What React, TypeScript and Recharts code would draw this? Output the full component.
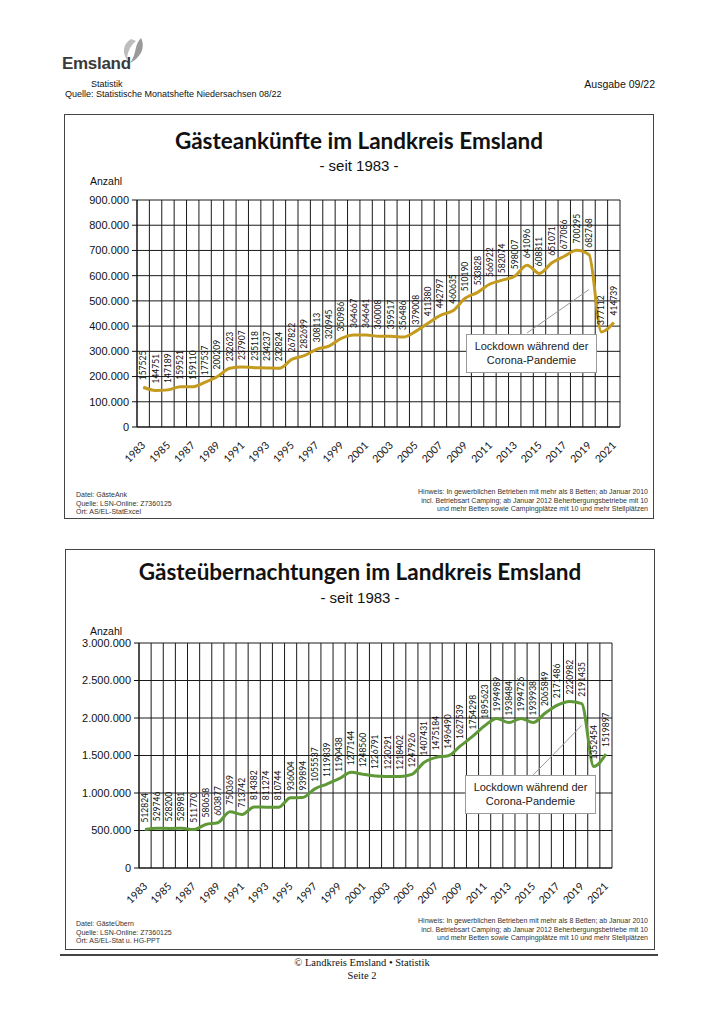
import {
  ComposedChart,
  Line,
  XAxis,
  YAxis,
  CartesianGrid,
  LabelList,
  ReferenceLine,
} from 'recharts'

const YEARS = [
  1983, 1984, 1985, 1986, 1987, 1988, 1989, 1990, 1991, 1992, 1993, 1994, 1995,
  1996, 1997, 1998, 1999, 2000, 2001, 2002, 2003, 2004, 2005, 2006, 2007, 2008,
  2009, 2010, 2011, 2012, 2013, 2014, 2015, 2016, 2017, 2018, 2019, 2020, 2021,
]

// Gästeankünfte
const ARRIVALS = [
  157525, 144751, 147189, 159521, 159110, 177537, 200209, 232623, 237907, 235118,
  234237, 232824, 267822, 282699, 308113, 320945, 350986, 364667, 364641, 360008,
  359517, 356486, 379008, 411380, 442797, 460635, 510190, 533828, 566922, 582074,
  598007, 641096, 608811, 651071, 677086, 700295, 682768, 377112, 414739,
]

// Gästeübernachtungen
const OVERNIGHTS = [
  512824, 529746, 528200, 528981, 511770, 580658, 603877, 750369, 713742, 814382,
  811274, 810744, 936004, 939894, 1055537, 1119839, 1190438, 1277144, 1248560,
  1226791, 1220291, 1218402, 1247926, 1407431, 1475184, 1496490, 1627539, 1754298,
  1895623, 1994989, 1938484, 1994726, 1939938, 2065849, 2171486, 2220982, 2191435,
  1352454, 1519897,
]

const ARRIVAL_TICKS = [0, 100000, 200000, 300000, 400000, 500000, 600000, 700000, 800000, 900000]
const OVERNIGHT_TICKS = [0, 500000, 1000000, 1500000, 2000000, 2500000, 3000000]

const arrivalData = YEARS.map((y, i) => ({ year: String(y), value: ARRIVALS[i] }))
const overnightData = YEARS.map((y, i) => ({ year: String(y), value: OVERNIGHTS[i] }))

const fmt = (n: number) => String(n).replace(/\B(?=(\d{3})+(?!\d))/g, '.')

const SANS = '"Liberation Sans", Arial, sans-serif'
const CAL = 'Lato, "Open Sans", sans-serif'

const YearTick = ({ x, y, payload }: any) => {
  const tx = x + 3
  const ty = y + 11
  return (
    <text
      x={tx}
      y={ty}
      transform={`rotate(-45 ${tx} ${ty})`}
      textAnchor="end"
      fontSize={10.5}
      fontFamily={CAL}
      fill="#111"
    >
      {payload.value}
    </text>
  )
}

const ValueLabel = (props: any) => {
  const { x, y, value } = props
  if (x == null || y == null) return null
  const ly = y - 7
  return (
    <text
      x={x}
      y={ly}
      transform={`rotate(-90 ${x} ${ly})`}
      textAnchor="start"
      dominantBaseline="central"
      fontSize={8.5}
      fontFamily={CAL}
      fill="#111"
    >
      {value}
    </text>
  )
}

// Gitternetz zwischen den Kategorien (wie Excel)
const boundaries = ({ offset }: any) =>
  YEARS.concat([0]).map((_, i) => offset.left + (i * offset.width) / YEARS.length)

interface PanelProps {
  data: { year: string; value: number }[]
  ticks: number[]
  color: string
  yWidth: number
  width: number
  marginRight: number
  plotHeight: number
  segment: { x: string; y: number }[]
}

function Panel({ data, ticks, color, yWidth, width, marginRight, plotHeight, segment }: PanelProps) {
  return (
    <ComposedChart
      width={width}
      height={10 + plotHeight + 50}
      data={data}
      margin={{ top: 10, right: marginRight, bottom: 0, left: 0 }}
    >
      <CartesianGrid
        stroke="#1a1a1a"
        strokeWidth={1}
        verticalCoordinatesGenerator={boundaries}
      />
      <XAxis
        dataKey="year"
        scale="band"
        interval={1}
        height={50}
        tickLine={false}
        axisLine={{ stroke: '#111' }}
        tick={<YearTick />}
      />
      <YAxis
        width={yWidth}
        domain={[ticks[0], ticks[ticks.length - 1]]}
        ticks={ticks}
        tickFormatter={fmt}
        tickSize={5}
        tickMargin={3}
        tickLine={{ stroke: '#111' }}
        axisLine={{ stroke: '#111' }}
        tick={{ fill: '#111', fontSize: 11, fontFamily: SANS }}
      />
      <ReferenceLine segment={segment} stroke="#999" strokeWidth={1} />
      <Line
        type="monotone"
        dataKey="value"
        stroke={color}
        strokeWidth={3}
        dot={false}
        isAnimationActive={false}
      >
        <LabelList dataKey="value" content={ValueLabel} />
      </Line>
    </ComposedChart>
  )
}

const abs = (left: number, top: number, extra: any = {}) => ({
  position: 'absolute' as const,
  left,
  top,
  lineHeight: 1,
  whiteSpace: 'nowrap' as const,
  ...extra,
})

function Notes({ top, file, place }: { top: number; file: string; place: string }) {
  const small = { fontSize: 7, fontFamily: SANS, color: '#333', lineHeight: '8.6px' }
  return (
    <>
      <div style={abs(76, top, small)}>
        Datei: {file}
        <br />
        Quelle: LSN-Online: Z7360125
        <br />
        Ort: {place}
      </div>
      <div style={abs(0, top - 3, { ...small, width: 648, textAlign: 'right' })}>
        Hinweis: In gewerblichen Betrieben mit mehr als 8 Betten; ab Januar 2010
        <br />
        incl. Betriebsart Camping; ab Januar 2012 Beherbergungsbetriebe mit 10
        <br />
        und mehr Betten sowie Campingplätze mit 10 und mehr Stellplätzen
      </div>
    </>
  )
}

function Lockdown({ left, top }: { left: number; top: number }) {
  return (
    <div
      style={abs(left, top, {
        width: 131,
        height: 39,
        border: '1px solid #999',
        background: '#fff',
        fontFamily: SANS,
        fontSize: 11,
        textAlign: 'center',
        lineHeight: '14px',
        paddingTop: 4,
        boxSizing: 'border-box',
        color: '#222',
      })}
    >
      Lockdown während der
      <br />
      Corona-Pandemie
    </div>
  )
}

export default function App() {
  return (
    <div
      style={{
        position: 'absolute',
        left: 0,
        top: 0,
        width: 724,
        height: 1024,
        background: '#fff',
        fontFamily: SANS,
        color: '#111',
      }}
    >
      {/* Kopf */}
      <svg style={{ position: 'absolute', left: 118, top: 36 }} width={30} height={30}>
        <path d="M13 3 C5 8 4 16 9 24 C9 17 12 10 18 5 Z" fill="#bdbdbd" />
        <path d="M23 2 C16 9 19 18 12 27 C22 22 28 12 23 2 Z" fill="#9a9a9a" />
      </svg>
      <div style={abs(62, 55, { fontSize: 17, fontWeight: 'bold', color: '#3a3a3a', letterSpacing: -0.3 })}>
        Emsland
      </div>
      <div style={abs(91, 80, { fontSize: 9 })}>Statistik</div>
      <div style={abs(65, 90, { fontSize: 9 })}>
        Quelle: Statistische Monatshefte Niedersachsen 08/22
      </div>
      <div style={abs(0, 79, { fontSize: 10.5, width: 655, textAlign: 'right' })}>Ausgabe 09/22</div>

      {/* Diagramm 1 */}
      <div style={abs(64, 114, { width: 590, height: 405, border: '1.5px solid #444', boxSizing: 'border-box' })} />
      <div style={abs(64, 130, { width: 590, textAlign: 'center', fontFamily: CAL, fontWeight: 'bold', fontSize: 22.5 })}>
        Gästeankünfte im Landkreis Emsland
      </div>
      <div style={abs(64, 158, { width: 590, textAlign: 'center', fontSize: 15 })}>- seit 1983 -</div>
      <div style={abs(90, 176, { fontSize: 10.5 })}>Anzahl</div>
      <div style={{ position: 'absolute', left: 66, top: 190 }}>
        <Panel
          data={arrivalData}
          ticks={ARRIVAL_TICKS}
          color="#C49B1F"
          yWidth={71}
          width={588}
          marginRight={34}
          plotHeight={227}
          segment={[
            { x: '2014', y: 373000 },
            { x: '2019', y: 545000 },
          ]}
        />
      </div>
      <Lockdown left={466} top={334} />
      <Notes top={491} file="GästeAnk" place="AS/EL-StatExcel" />

      {/* Diagramm 2 */}
      <div style={abs(65, 549, { width: 590, height: 401, border: '1.5px solid #444', boxSizing: 'border-box' })} />
      <div style={abs(65, 561, { width: 590, textAlign: 'center', fontFamily: CAL, fontWeight: 'bold', fontSize: 22.5 })}>
        Gästeübernachtungen im Landkreis Emsland
      </div>
      <div style={abs(65, 590, { width: 590, textAlign: 'center', fontSize: 15 })}>- seit 1983 -</div>
      <div style={abs(90, 626, { fontSize: 10.5 })}>Anzahl</div>
      <div style={{ position: 'absolute', left: 66, top: 633 }}>
        <Panel
          data={overnightData}
          ticks={OVERNIGHT_TICKS}
          color="#5E9837"
          yWidth={73}
          width={589}
          marginRight={43}
          plotHeight={225}
          segment={[
            { x: '2015', y: 1240000 },
            { x: '2019', y: 1900000 },
          ]}
        />
      </div>
      <Lockdown left={465} top={775} />
      <Notes top={920} file="GästeÜbern" place="AS/EL-Stat u. HG-PPT" />

      {/* Fuß */}
      <div style={abs(60, 954, { width: 598, height: 0, borderTop: '2px solid #444' })} />
      <div
        style={abs(0, 957, {
          width: 724,
          textAlign: 'center',
          fontFamily: '"Liberation Serif", serif',
          fontSize: 10.5,
          lineHeight: '12.5px',
        })}
      >
        © Landkreis Emsland • Statistik
        <br />
        Seite 2
      </div>
    </div>
  )
}
